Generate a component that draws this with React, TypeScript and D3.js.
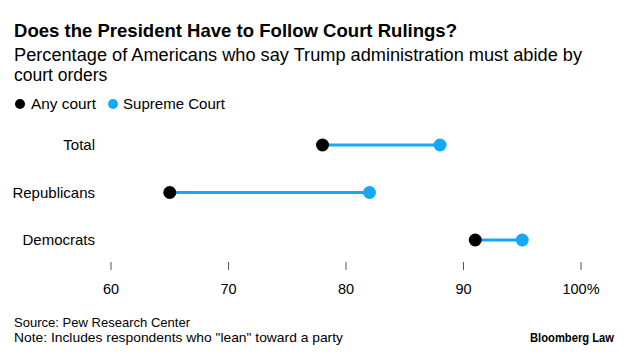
import React from "react";
import * as d3 from "d3";

const categories = ["Total", "Republicans", "Democrats"];
const anyCourt = [78, 65, 91];
const supremeCourt = [88, 82, 95];
const ticks = [60, 70, 80, 90, 100];
const seriesNames = ["Any court", "Supreme Court"];

const W = 633, H = 357;
const BLUE = "#14a9f6";
const FONT = "'Liberation Sans', Arial, sans-serif";

export default function App() {
  const x = d3.scaleLinear().domain([60, 100]).range([111, 581]);
  const y = d3.scalePoint<string>().domain(categories).range([145, 240]);
  return (
    <svg width={W} height={H} style={{ position: "absolute", left: 0, top: 0, background: "#fff" }} fontFamily={FONT}>
      <text x={14} y={37} fontSize={18.5} fontWeight="bold" fill="#000" textLength={443} lengthAdjust="spacingAndGlyphs">Does the President Have to Follow Court Rulings?</text>
      <text x={14} y={61} fontSize={17.5} fill="#000" textLength={568} lengthAdjust="spacingAndGlyphs">Percentage of Americans who say Trump administration must abide by</text>
      <text x={14} y={81} fontSize={17.5} fill="#000">court orders</text>
      <circle cx={20} cy={104} r={5} fill="#000" />
      <text x={31} y={109} fontSize={14.5} fill="#000" textLength={65} lengthAdjust="spacingAndGlyphs">{seriesNames[0]}</text>
      <circle cx={113} cy={104} r={5} fill={BLUE} />
      <text x={123} y={109} fontSize={14.5} fill="#000" textLength={102} lengthAdjust="spacingAndGlyphs">{seriesNames[1]}</text>
      {categories.map((c, i) => (
        <g key={c}>
          <text x={95} y={(y(c) ?? 0) + 5} fontSize={15} textAnchor="end" fill="#000">{c}</text>
          <line x1={x(anyCourt[i])} x2={x(supremeCourt[i])} y1={y(c)} y2={y(c)} stroke={BLUE} strokeWidth={3} />
          <circle cx={x(anyCourt[i])} cy={y(c)} r={6.5} fill="#000" />
          <circle cx={x(supremeCourt[i])} cy={y(c)} r={6.5} fill={BLUE} />
        </g>
      ))}
      {ticks.map((t) => (
        <g key={t}>
          <line x1={x(t)} x2={x(t)} y1={262} y2={270} stroke="#555" strokeWidth={1} />
          <text x={x(t)} y={294} fontSize={14.5} textAnchor="middle" fill="#000">{t === 100 ? "100%" : t}</text>
        </g>
      ))}
      <text x={14} y={327} fontSize={13.5} fill="#000" textLength={176} lengthAdjust="spacingAndGlyphs">Source: Pew Research Center</text>
      <text x={14} y={342} fontSize={13.5} fill="#000" textLength={329} lengthAdjust="spacingAndGlyphs">Note: Includes respondents who "lean" toward a party</text>
      <text x={614} y={342} fontSize={12.5} fontWeight="bold" textAnchor="end" fill="#000" textLength={84} lengthAdjust="spacingAndGlyphs">Bloomberg Law</text>
    </svg>
  );
}
